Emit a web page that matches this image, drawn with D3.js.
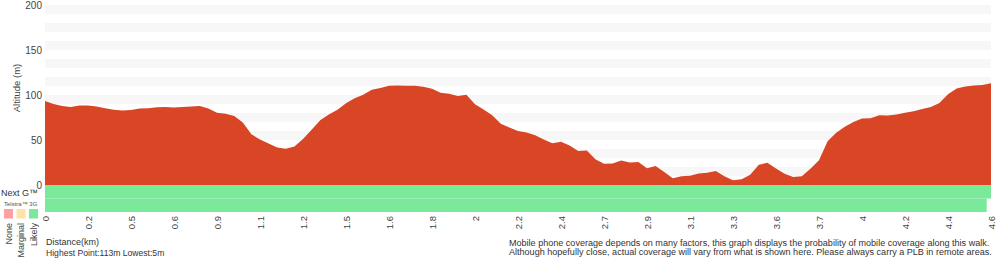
<!DOCTYPE html>
<html>
<head>
<meta charset="utf-8">
<script src="https://cdn.jsdelivr.net/npm/d3@7"></script>
<style>
  body { margin: 0; background: #fff; }
  svg { display: block; font-family: "Liberation Sans", Arial, sans-serif; }
  .axis text { fill: #444; }
</style>
</head>
<body>
<div id="chart"></div>
<script>
// elevation (m), one value per track sample
const elevation = [
  93.3, 90.1, 87.8, 86.8, 88.4, 88.2, 87.2, 85.4, 83.7, 82.7,
  83.3, 85, 85.2, 86.5, 86.6, 86.1, 86.7, 87.2, 87.8, 85,
  80.2, 79.2, 76.8, 69.5, 56.3, 50.5, 46, 41.7, 40.3, 42.8,
  51, 61.5, 71.9, 78.2, 83.7, 90.8, 96.4, 100.4, 105.7, 107.7,
  110.4, 110.5, 110.4, 110.2, 109.3, 107, 102.6, 101.5, 99, 100.3,
  89.6, 84, 77.5, 68, 64, 60, 58.3, 55.4, 50.6, 46.4,
  48.1, 43.8, 37.9, 38.4, 28.6, 23.6, 24, 27.1, 25, 25.5,
  18.5, 21, 14.4, 7.6, 9.7, 10.2, 12.7, 13.5, 15.5, 9.7,
  5.3, 6.4, 11.3, 22.4, 24.6, 18.4, 12.4, 8.9, 9.7, 18,
  27.6, 48.7, 58.1, 64.6, 70, 74, 74.2, 77.5, 77.3, 78.4,
  80.2, 81.9, 84.5, 86.6, 91, 100.8, 107.1, 109.5, 110.5, 111.2,
  113
]

// distance labels (km), one every 5 samples
const distLabels = ['0', '0.2', '0.5', '0.6', '0.9', '1.1', '1.2', '1.5', '1.6', '1.8', '2',
  '2.2', '2.4', '2.7', '2.9', '3.1', '3.3', '3.6', '3.7', '4', '4.2', '4.4', '4.6']

const altTicks = [0, 50, 100, 150, 200]

// coverage runs: [first sample, last sample, level]
const nextGRuns = [[0, 110, 'Likely']]
const threeGRuns = [[0, 109, 'Likely']]

const levels = ['None', 'Marginal', 'Likely']
const levelColors = { None: '#ff9f9f', Marginal: '#ffe2a6', Likely: '#7aea9a' }

const width = 1000
const height = 260
const margin = { left: 45, right: 9, top: 5 }
const plotBottom = 185
const rowH = 13.5

const svg = d3.select('#chart')
  .append('svg')
  .attr('width', width)
  .attr('height', height)

const x = d3.scaleLinear()
  .domain([0, elevation.length - 1])
  .range([margin.left, width - margin.right])

const y = d3.scaleLinear()
  .domain([0, 200])
  .range([plotBottom, margin.top])

const step = x(1) - x(0)

// alternating bands every 10 m
const bands = d3.range(190, 0, -20)
svg.append('g')
  .selectAll('rect')
  .data(bands)
  .enter()
  .append('rect')
  .attr('x', x(0))
  .attr('width', x(elevation.length - 1) - x(0))
  .attr('y', d => y(d + 10))
  .attr('height', d => y(d) - y(d + 10))
  .attr('fill', '#f7f7f7')

// elevation area
const area = d3.area()
  .x((d, i) => x(i))
  .y0(y(0))
  .y1(d => y(d))

svg.append('path')
  .datum(elevation)
  .attr('d', area)
  .attr('fill', '#d94626')

// coverage rows
function drawRuns(runs, top) {
  svg.append('g')
    .selectAll('rect')
    .data(runs)
    .enter()
    .append('rect')
    .attr('x', d => Math.max(x(0), x(d[0]) - step / 2))
    .attr('width', d => Math.min(x(elevation.length - 1), x(d[1]) + step / 2) - Math.max(x(0), x(d[0]) - step / 2))
    .attr('y', top)
    .attr('height', rowH)
    .attr('fill', d => levelColors[d[2]])
}
drawRuns(nextGRuns, plotBottom)
drawRuns(threeGRuns, plotBottom + rowH)

// y axis
const yAxis = svg.append('g')
  .attr('class', 'axis')
  .attr('transform', `translate(${margin.left},0)`)
  .call(d3.axisLeft(y).tickValues(altTicks).tickSize(0).tickPadding(3))
yAxis.select('.domain').remove()
yAxis.selectAll('text').attr('font-size', 10)

svg.append('text')
  .attr('transform', 'rotate(-90)')
  .attr('x', -88)
  .attr('y', 20)
  .attr('text-anchor', 'middle')
  .attr('font-size', 9.5)
  .attr('fill', '#444')
  .text('Altitude (m)')

// x axis
const xAxis = svg.append('g')
  .attr('class', 'axis')
  .attr('transform', `translate(0,${plotBottom + 2 * rowH})`)
  .call(d3.axisBottom(x)
    .tickValues(distLabels.map((d, i) => i * 5))
    .tickFormat((d, i) => distLabels[i])
    .tickSize(0))
xAxis.select('.domain').remove()
xAxis.selectAll('text')
  .attr('font-size', 9.5)
  .attr('transform', 'rotate(-90)')
  .attr('text-anchor', 'end')
  .attr('x', -4)
  .attr('y', 0)
  .attr('dy', '0.35em')

// coverage legend
svg.append('text')
  .attr('x', 1)
  .attr('y', 196)
  .attr('font-size', 9)
  .attr('fill', '#333')
  .text('Next G™')

svg.append('text')
  .attr('x', 4)
  .attr('y', 206)
  .attr('font-size', 6)
  .attr('fill', '#555')
  .text('Telstra™ 3G')

const legendX = d3.scalePoint().domain(levels).range([8.5, 33.5])

const legend = svg.append('g')
  .selectAll('g')
  .data(levels)
  .enter()
  .append('g')
  .attr('transform', d => `translate(${legendX(d)},0)`)

legend.append('rect')
  .attr('x', -4.5)
  .attr('y', 209)
  .attr('width', 9)
  .attr('height', 9.5)
  .attr('fill', d => levelColors[d])

legend.append('text')
  .attr('transform', 'rotate(-90)')
  .attr('x', -223)
  .attr('y', 0)
  .attr('dy', '0.35em')
  .attr('text-anchor', 'end')
  .attr('font-size', 9)
  .attr('fill', '#444')
  .text(d => d)

// footer
svg.append('text')
  .attr('x', 46)
  .attr('y', 245)
  .attr('font-size', 9)
  .attr('fill', '#333')
  .text('Distance(km)')

svg.append('text')
  .attr('x', 46)
  .attr('y', 255.5)
  .attr('font-size', 8.6)
  .attr('fill', '#333')
  .text('Highest Point:113m Lowest:5m')

const notes = [
  'Mobile phone coverage depends on many factors, this graph displays the probability of mobile coverage along this walk.',
  'Although hopefully close, actual coverage will vary from what is shown here. Please always carry a PLB in remote areas.'
]
svg.append('g')
  .selectAll('text')
  .data(notes)
  .enter()
  .append('text')
  .attr('x', 509)
  .attr('y', (d, i) => 246 + i * 9)
  .attr('font-size', 9.05)
  .attr('fill', '#333')
  .text(d => d)
</script>
</body>
</html>
